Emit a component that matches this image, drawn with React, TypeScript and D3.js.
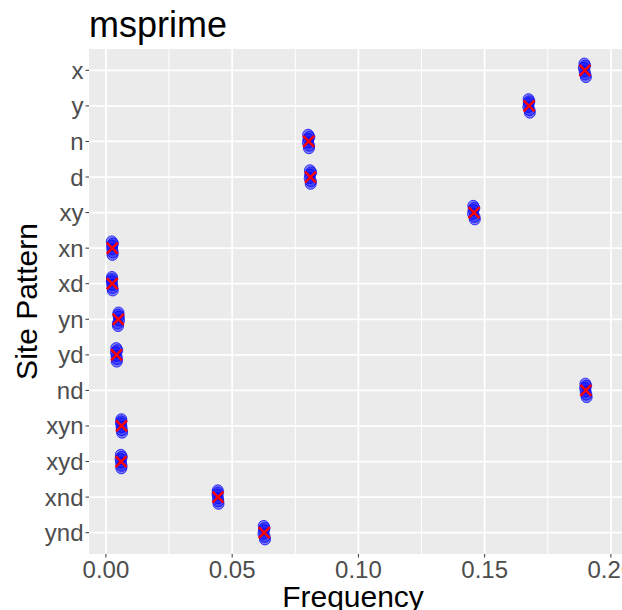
import React from 'react';
import * as d3 from 'd3';

// site patterns, top to bottom
const patterns = ['x', 'y', 'n', 'd', 'xy', 'xn', 'xd', 'yn', 'yd', 'nd', 'xyn', 'xyd', 'xnd', 'ynd'];

// expected frequency (red crosses)
const expectedFreq = [0.1897, 0.1676, 0.0803, 0.0810, 0.1458, 0.0025, 0.0025, 0.0049, 0.0042, 0.1901, 0.0062, 0.0060, 0.0444, 0.0627];

// simulated replicates (blue points)
const replicateFreq = [
  [0.1895, 0.1899, 0.1893, 0.1901, 0.1896, 0.1898],
  [0.1674, 0.1678, 0.1675, 0.1679, 0.1673, 0.1677],
  [0.0801, 0.0805, 0.0802, 0.0804, 0.0800, 0.0806],
  [0.0808, 0.0812, 0.0809, 0.0811, 0.0807, 0.0813],
  [0.1455, 0.1460, 0.1456, 0.1461, 0.1454, 0.1459],
  [0.0023, 0.0027, 0.0024, 0.0026, 0.0025, 0.0028],
  [0.0024, 0.0026, 0.0023, 0.0027, 0.0025, 0.0024],
  [0.0050, 0.0047, 0.0051, 0.0048, 0.0052, 0.0049],
  [0.0041, 0.0044, 0.0040, 0.0043, 0.0042, 0.0045],
  [0.1899, 0.1903, 0.1898, 0.1904, 0.1900, 0.1902],
  [0.0061, 0.0063, 0.0060, 0.0064, 0.0062, 0.0061],
  [0.0059, 0.0062, 0.0058, 0.0061, 0.0060, 0.0063],
  [0.0443, 0.0445, 0.0442, 0.0446, 0.0444, 0.0443],
  [0.0625, 0.0629, 0.0626, 0.0630, 0.0624, 0.0628],
];

// vertical jitter of each replicate, in category steps
const jitter = [-0.19, 0.12, -0.07, 0.19, 0.03, -0.13];

const xTicks = [0, 0.05, 0.1, 0.15, 0.2];
const xMinorTicks = [0.025, 0.075, 0.125, 0.175];

const width = 622;
const height = 610;
const panel = { left: 89, right: 622, top: 49, bottom: 554 };
const font = '"Liberation Sans", Arial, Helvetica, sans-serif';

const App = () => {
  const x = d3.scaleLinear()
    .domain([-0.0067, 0.2044])
    .range([panel.left, panel.right]);

  const y = d3.scalePoint<string>()
    .domain(patterns)
    .range([panel.top, panel.bottom])
    .padding(0.6);

  const step = y.step();
  const fmt = d3.format('.2f');

  return (
    <svg width={width} height={height}
      style={{ position: 'absolute', left: 0, top: 0, display: 'block' }}
      fontFamily={font}>
      <rect x={panel.left} y={panel.top} width={panel.right - panel.left}
        height={panel.bottom - panel.top} fill="#EBEBEB" />

      {xMinorTicks.map(t => (
        <line key={'mx' + t} x1={x(t)} x2={x(t)} y1={panel.top} y2={panel.bottom}
          stroke="white" strokeWidth={1} />
      ))}
      {xTicks.map(t => (
        <line key={'gx' + t} x1={x(t)} x2={x(t)} y1={panel.top} y2={panel.bottom}
          stroke="white" strokeWidth={1.8} />
      ))}
      {patterns.map(p => (
        <line key={'gy' + p} x1={panel.left} x2={panel.right} y1={y(p)} y2={y(p)}
          stroke="white" strokeWidth={1.8} />
      ))}

      {replicateFreq.map((vals, i) => vals.map((v, j) => (
        <circle key={'p' + i + '-' + j} cx={x(v)} cy={(y(patterns[i]) as number) + jitter[j] * step}
          r={5.5} fill="blue" fillOpacity={0.45} stroke="blue" strokeOpacity={0.75} strokeWidth={1} />
      )))}

      {expectedFreq.map((v, i) => {
        const cx = x(v);
        const cy = y(patterns[i]) as number;
        const s = 5.5;
        return (
          <g key={'e' + i} stroke="red" strokeWidth={2.5}>
            <line x1={cx - s} y1={cy - s} x2={cx + s} y2={cy + s} />
            <line x1={cx - s} y1={cy + s} x2={cx + s} y2={cy - s} />
          </g>
        );
      })}

      {/* y axis */}
      {patterns.map(p => (
        <g key={'ty' + p}>
          <line x1={panel.left - 3.5} x2={panel.left} y1={y(p)} y2={y(p)} stroke="#333333" strokeWidth={1} />
          <text x={panel.left - 5.5} y={(y(p) as number) + 8.5} textAnchor="end"
            fontSize={24} fill="#4D4D4D">{p}</text>
        </g>
      ))}

      {/* x axis */}
      {xTicks.map(t => (
        <g key={'tx' + t}>
          <line x1={x(t)} x2={x(t)} y1={panel.bottom} y2={panel.bottom + 3.5} stroke="#333333" strokeWidth={1} />
          <text x={x(t)} y={578} textAnchor="middle" fontSize={24} fill="#4D4D4D">{fmt(t)}</text>
        </g>
      ))}

      <text x={353} y={607} textAnchor="middle" fontSize={30} fill="black">Frequency</text>
      <text transform={`translate(37, ${(panel.top + panel.bottom) / 2}) rotate(-90)`}
        textAnchor="middle" fontSize={30} fill="black">Site Pattern</text>
      <text x={89} y={37} fontSize={36} fill="black">msprime</text>
    </svg>
  );
};

export default App;
